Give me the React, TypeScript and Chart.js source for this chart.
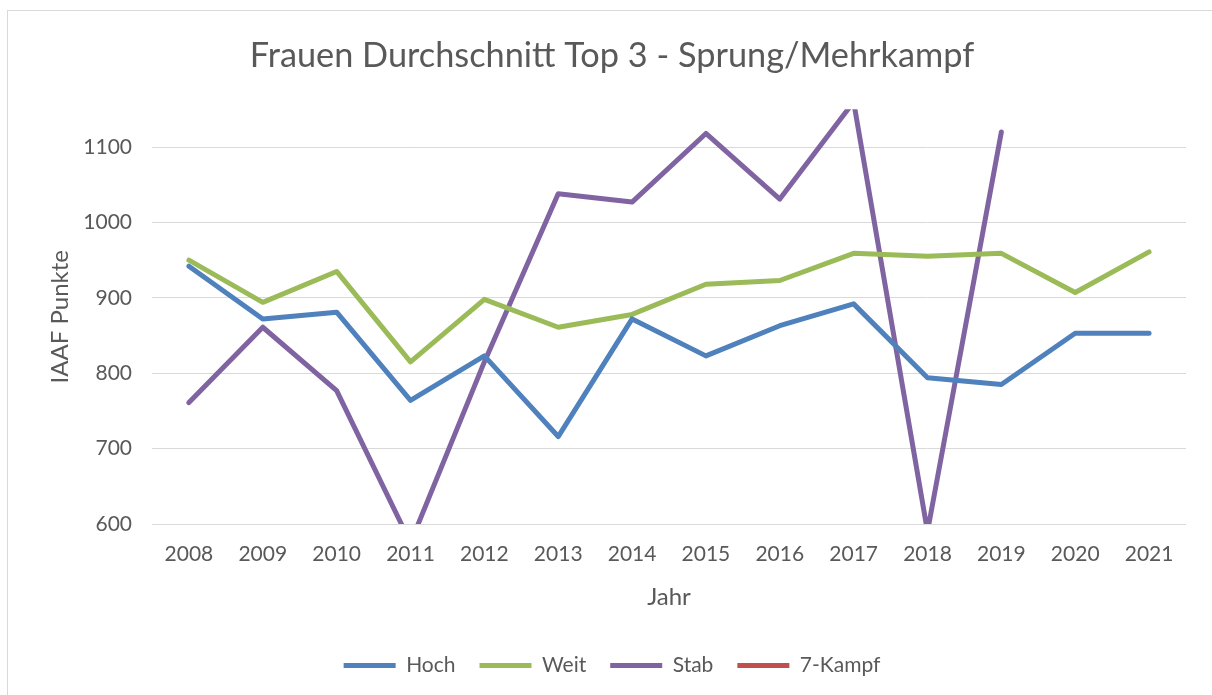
import React, { useEffect, useRef } from "react";
import { Chart, registerables } from "chart.js";

Chart.register(...registerables);

const years = ["2008","2009","2010","2011","2012","2013","2014","2015","2016","2017","2018","2019","2020","2021"];
const hoch = [942, 872, 881, 764, 823, 716, 872, 823, 863, 892, 794, 785, 853, 853];
const weit = [950, 894, 935, 815, 898, 861, 878, 918, 923, 959, 955, 959, 907, 961];
const stab: (number | null)[] = [761, 861, 777, 575, 815, 1038, 1027, 1118, 1031, 1160, 590, 1120, null, null];
const siebenKampf: (number | null)[] = [null, null, null, null, null, null, null, null, null, null, null, null, null, null];
const yTicks = [600, 700, 800, 900, 1000, 1100];

const TEXT = "#595959";
const FONT = "Lato";

export default function App() {
  const ref = useRef<HTMLCanvasElement>(null);
  useEffect(() => {
    if (!ref.current) return;
    const mk = (label: string, data: (number | null)[], color: string) => ({
      label,
      data,
      borderColor: color,
      backgroundColor: color,
      borderWidth: 5,
      pointRadius: 0,
      borderCapStyle: "round" as const,
      borderJoinStyle: "round" as const,
      tension: 0,
    });
    const chart = new Chart(ref.current, {
      type: "line",
      data: {
        labels: years,
        datasets: [
          mk("Hoch", hoch, "#4f81bd"),
          mk("Weit", weit, "#9bbb59"),
          mk("Stab", stab, "#8064a2"),
          mk("7-Kampf", siebenKampf, "#c0504d"),
        ],
      },
      options: {
        animation: false,
        responsive: false,
        layout: { padding: { left: 30, right: 32, top: 10, bottom: 25 } },
        plugins: {
          title: {
            display: true,
            text: "Frauen Durchschnitt Top 3 - Sprung/Mehrkampf",
            color: TEXT,
            font: { family: FONT, size: 34.3, weight: "normal" },
            padding: { top: 14.6, bottom: 32.6 },
          },
          legend: {
            position: "bottom",
            labels: {
              color: TEXT,
              font: { family: FONT, size: 21 },
              boxWidth: 52,
              boxHeight: 5,
              padding: 24,
              generateLabels: (c: any) =>
                Chart.defaults.plugins.legend.labels.generateLabels(c).map((l: any) => ({ ...l, lineWidth: 0 })),
            },
          },
          tooltip: { enabled: false },
        },
        scales: {
          x: {
            offset: true,
            grid: { display: false, drawTicks: false, offset: true },
            border: { display: false },
            ticks: { color: TEXT, font: { family: FONT, size: 21 }, padding: 18, maxRotation: 0 },
            title: {
              display: true,
              text: "Jahr",
              color: TEXT,
              font: { family: FONT, size: 24 },
              padding: { top: 14, bottom: 19.6 },
            },
            afterFit: (s: any) => { s.height = 107; },
          },
          y: {
            min: 600,
            max: 1150,
            grid: { color: "#d9d9d9", lineWidth: 1, drawTicks: false },
            border: { display: false },
            ticks: {
              color: TEXT,
              font: { family: FONT, size: 21 },
              padding: 20,
              stepSize: 100,
              callback: (v: any) => String(v),
            },
            afterBuildTicks: (s: any) => { s.ticks = yTicks.map((v) => ({ value: v })); },
            title: {
              display: true,
              text: "IAAF Punkte",
              color: TEXT,
              font: { family: FONT, size: 24 },
              padding: { top: 7.6, bottom: 0 },
            },
            afterFit: (s: any) => { s.width = 114; },
          },
        },
      },
    } as any);
    return () => chart.destroy();
  }, []);
  return (
    <div style={{ position: "absolute", left: 7, top: 10, border: "1px solid #d9d9d9", background: "#fff" }}>
      <canvas ref={ref} width={1210} height={700} style={{ display: "block", width: 1210, height: 700 }} />
    </div>
  );
}
